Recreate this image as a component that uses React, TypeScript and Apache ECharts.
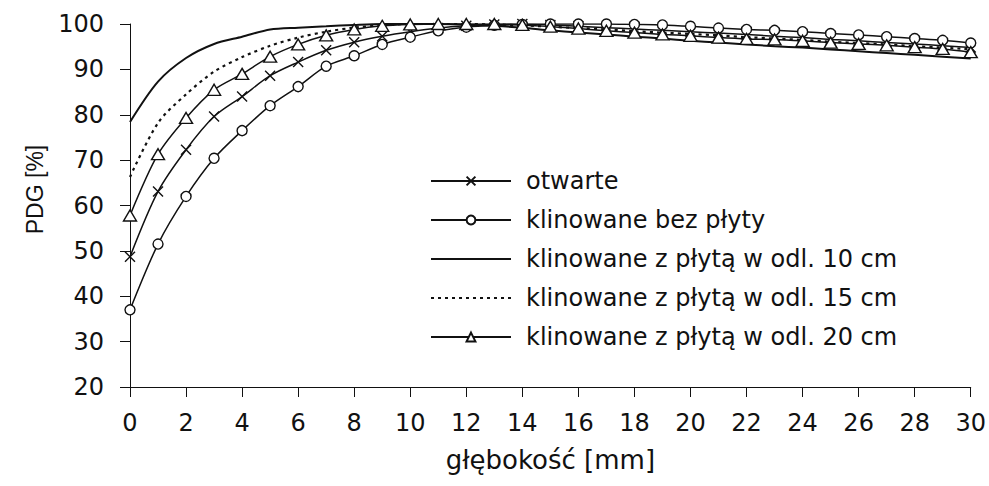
import React, { useEffect, useRef } from "react";
import * as echarts from "echarts";

const depthMm = [
  0, 1, 2, 3, 4, 5, 6, 7, 8, 9, 10, 11, 12, 13, 14, 15, 16, 17, 18, 19, 20,
  21, 22, 23, 24, 25, 26, 27, 28, 29, 30,
];

const seriesNames = [
  "otwarte",
  "klinowane bez płyty",
  "klinowane z płytą w odl. 10 cm",
  "klinowane z płytą w odl. 15 cm",
  "klinowane z płytą w odl. 20 cm",
];

const otwarte = [
  48.7, 63.1, 72.3, 79.6, 84.0, 88.6, 91.6, 94.2, 96.0, 97.3, 98.3, 99.1, 99.6,
  99.9, 100, 99.8, 99.5, 99.2, 98.9, 98.6, 98.3, 98.0, 97.7, 97.3, 97.0, 96.6,
  96.3, 95.9, 95.6, 95.2, 94.8,
];

const bezPlyty = [
  37.0, 51.5, 62.0, 70.4, 76.5, 82.0, 86.2, 90.7, 93.0, 95.5, 97.1, 98.5, 99.3,
  99.7, 99.9, 100, 100, 100, 99.9, 99.8, 99.5, 99.1, 98.8, 98.6, 98.3, 97.9,
  97.6, 97.2, 96.8, 96.4, 95.8,
];

const plyta10 = [
  78.4, 87.3, 92.5, 95.6, 97.2, 98.8, 99.2, 99.5, 99.8, 100, 100, 100, 99.9,
  99.6, 99.2, 98.6, 98.1, 97.7, 97.2, 96.8, 96.3, 95.9, 95.5, 95.1, 94.8, 94.4,
  94.0, 93.6, 93.2, 92.8, 92.4,
];

const plyta15 = [
  66.3, 78.2, 84.5, 89.5, 92.7, 95.2, 97.0, 98.3, 99.2, 99.7, 100, 100, 100,
  99.9, 99.7, 99.4, 99.1, 98.8, 98.4, 98.1, 97.8, 97.5, 97.1, 96.8, 96.5, 96.1,
  95.8, 95.5, 95.1, 94.8, 94.4,
];

const plyta20 = [
  57.8, 71.3, 79.3, 85.5, 89.0, 92.8, 95.5, 97.5, 98.8, 99.6, 99.9, 100, 100,
  100, 99.8, 99.4, 99.0, 98.5, 98.1, 97.7, 97.4, 97.0, 96.7, 96.6, 96.3, 95.9,
  95.6, 95.3, 94.9, 94.5, 93.8,
];

const INK = "#111";
const FONT = "DejaVu Sans";

function pairs(values: number[]) {
  return depthMm.map((x, i) => [x, values[i]]);
}

export default function App() {
  const ref = useRef<HTMLDivElement>(null);

  useEffect(() => {
    if (!ref.current) return;
    const chart = echarts.init(ref.current, null, { renderer: "svg" });

    const markerStyle = {
      color: "#fff",
      borderColor: INK,
      borderWidth: 1.4,
    };
    const hiddenIcon = { color: "rgba(0,0,0,0)", borderWidth: 0, opacity: 0 };

    chart.setOption({
      animation: false,
      backgroundColor: "#fff",
      grid: { left: 130, right: 15, top: 24, bottom: 99, containLabel: false },
      legend: {
        orient: "vertical",
        left: 430,
        top: 169,
        padding: 0,
        itemWidth: 80,
        itemHeight: 11,
        itemGap: 15,
        data: [
          { name: seriesNames[0] },
          { name: seriesNames[1] },
          { name: seriesNames[2], itemStyle: hiddenIcon },
          { name: seriesNames[3], itemStyle: hiddenIcon },
          { name: seriesNames[4] },
        ],
        textStyle: {
          fontFamily: FONT,
          fontSize: 24,
          color: INK,
          padding: [0, 0, 0, 10],
        },
      },
      xAxis: {
        type: "value",
        min: 0,
        max: 30,
        interval: 2,
        name: "głębokość [mm]",
        nameLocation: "middle",
        nameGap: 60,
        nameTextStyle: { fontFamily: FONT, fontSize: 26, color: INK },
        axisLine: { show: true, onZero: false, lineStyle: { color: INK, width: 1 } },
        axisTick: { show: true, inside: false, length: 10, lineStyle: { color: INK } },
        axisLabel: { fontFamily: FONT, fontSize: 24, color: INK, margin: 24 },
        splitLine: { show: false },
      },
      yAxis: {
        type: "value",
        min: 20,
        max: 100,
        interval: 10,
        name: "PDG [%]",
        nameLocation: "middle",
        nameGap: 84,
        nameRotate: 90,
        nameTextStyle: {
          fontFamily: "Liberation Sans",
          fontSize: 23,
          color: INK,
          padding: [0, 0, 0, 32],
        },
        axisLine: { show: true, lineStyle: { color: INK, width: 1 } },
        axisTick: { show: true, inside: false, length: 10, lineStyle: { color: INK } },
        axisLabel: { fontFamily: FONT, fontSize: 24, color: INK, margin: 26 },
        splitLine: { show: false },
      },
      series: [
        {
          name: seriesNames[0],
          type: "line",
          data: pairs(otwarte),
          smooth: 0.3,
          symbol: "path://M0,0L10,10M10,0L0,10",
          symbolSize: 10,
          showAllSymbol: true,
          lineStyle: { color: INK, width: 1.5 },
          itemStyle: markerStyle,
          z: 3,
        },
        {
          name: seriesNames[1],
          type: "line",
          data: pairs(bezPlyty),
          smooth: 0.3,
          symbol: "circle",
          symbolSize: 10,
          showAllSymbol: true,
          lineStyle: { color: INK, width: 1.5 },
          itemStyle: markerStyle,
          z: 4,
        },
        {
          name: seriesNames[2],
          type: "line",
          data: pairs(plyta10),
          smooth: 0.3,
          symbol: "none",
          lineStyle: { color: INK, width: 2 },
          itemStyle: { color: INK },
          z: 2,
        },
        {
          name: seriesNames[3],
          type: "line",
          data: pairs(plyta15),
          smooth: 0.3,
          symbol: "none",
          lineStyle: { color: INK, width: 2.2, type: [3, 4] },
          itemStyle: { color: INK },
          z: 2,
        },
        {
          name: seriesNames[4],
          type: "line",
          data: pairs(plyta20),
          smooth: 0.3,
          symbol: "triangle",
          symbolSize: [13, 11],
          showAllSymbol: true,
          lineStyle: { color: INK, width: 1.5 },
          itemStyle: markerStyle,
          z: 5,
        },
      ],
    });

    return () => chart.dispose();
  }, []);

  return (
    <div
      ref={ref}
      style={{ position: "absolute", left: 0, top: 0, width: 989, height: 486 }}
    />
  );
}
